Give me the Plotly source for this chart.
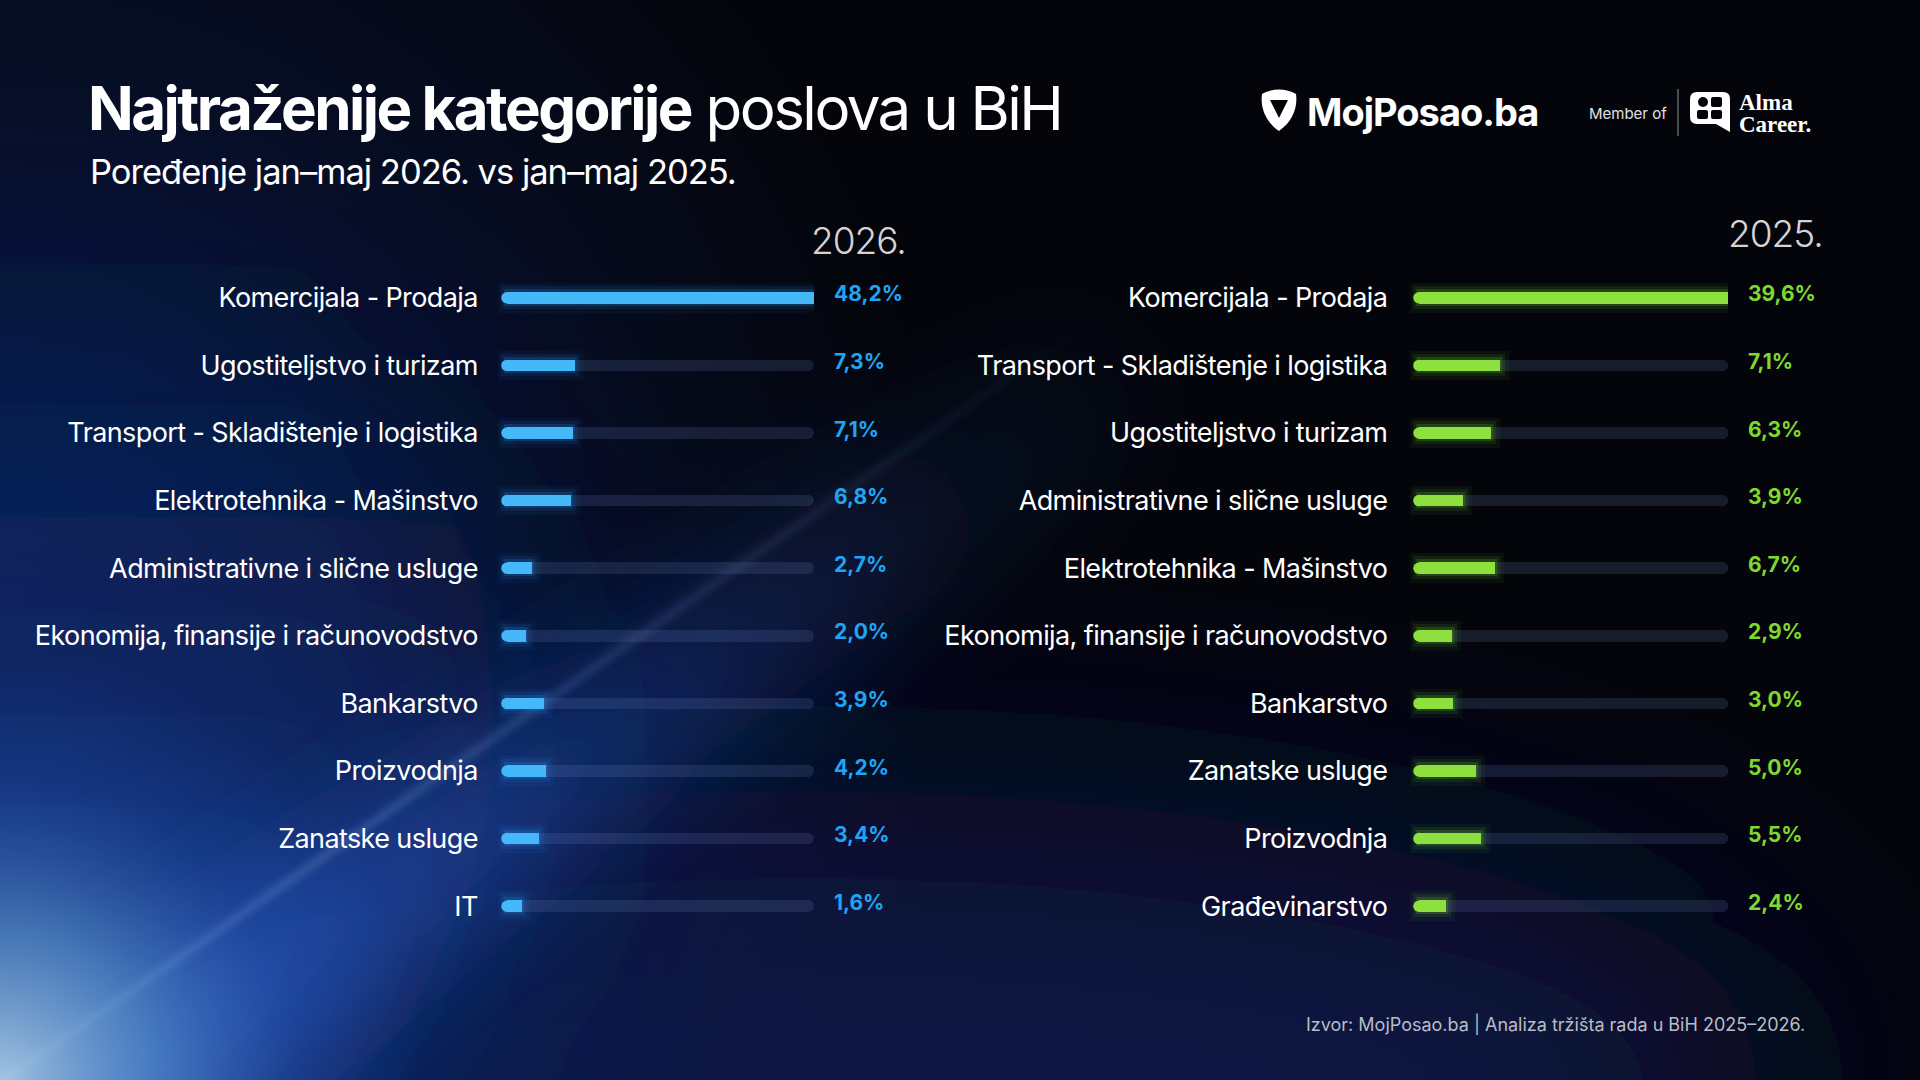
import base64
import plotly.graph_objects as go

# ---------------- data ----------------
cats_2026 = ["Komercijala - Prodaja", "Ugostiteljstvo i turizam",
             "Transport - Skladištenje i logistika", "Elektrotehnika - Mašinstvo",
             "Administrativne i slične usluge", "Ekonomija, finansije i računovodstvo",
             "Bankarstvo", "Proizvodnja", "Zanatske usluge", "IT"]
vals_2026 = [48.2, 7.3, 7.1, 6.8, 2.7, 2.0, 3.9, 4.2, 3.4, 1.6]

cats_2025 = ["Komercijala - Prodaja", "Transport - Skladištenje i logistika",
             "Ugostiteljstvo i turizam", "Administrativne i slične usluge",
             "Elektrotehnika - Mašinstvo", "Ekonomija, finansije i računovodstvo",
             "Bankarstvo", "Zanatske usluge", "Proizvodnja", "Građevinarstvo"]
vals_2025 = [39.6, 7.1, 6.3, 3.9, 6.7, 2.9, 3.0, 5.0, 5.5, 2.4]

title_bold = "Najtraženije kategorije"
title_rest = " poslova u BiH"
subtitle = "Poređenje jan–maj 2026. vs jan–maj 2025."
year_left = "2026."
year_right = "2025."
source = "Izvor: MojPosao.ba | Analiza tržišta rada u BiH 2025–2026."

# ---------------- style ----------------
W, H = 1920, 1080
FONT = "Inter"
BLUE = "#45b8fa"
BLUE_GLOW = "rgba(40,160,255,{a})"
BLUE_TXT = "#1ea6f5"
GREEN = "#8ee03f"
GREEN_GLOW = "rgba(120,230,50,{a})"
GREEN_TXT = "#7ed92e"
TRACK = "rgba(120,140,200,0.17)"

# horizontal geometry (pixels) and scale (pixels per percent point)
L0, L1, K_L = 507, 814, 9.33
R0, R1, K_R = 1419, 1728, 11.4
XMAX_L = (L1 - L0) / K_L   # the track end; longer bars are cut at the track end
XMAX_R = (R1 - R0) / K_R
PAD = 1.2                  # left pad in percent so the round cap / glow is not cut
BAR_W = 0.17
Y_TOP, Y_BOT = 264, 940
ROW_PX = (Y_BOT - Y_TOP) / 10
CAP_PX = BAR_W * ROW_PX

svg = f"""<svg xmlns="http://www.w3.org/2000/svg" width="{W}" height="{H}" viewBox="0 0 {W} {H}">
<defs>
<filter id="b1" x="-150%" y="-200%" width="400%" height="500%"><feGaussianBlur stdDeviation="130"/></filter>
<filter id="b2" x="-100%" y="-100%" width="300%" height="300%"><feGaussianBlur stdDeviation="55"/></filter>
<filter id="b3" x="-20%" y="-20%" width="140%" height="140%"><feGaussianBlur stdDeviation="4"/></filter>
<radialGradient id="corner" cx="0" cy="1080" r="430" gradientUnits="userSpaceOnUse">
<stop offset="0" stop-color="#a9cbe6" stop-opacity="0.95"/>
<stop offset="0.35" stop-color="#5b92cf" stop-opacity="0.7"/>
<stop offset="0.7" stop-color="#2656b6" stop-opacity="0.3"/>
<stop offset="1" stop-color="#1d4fb0" stop-opacity="0"/>
</radialGradient>
<radialGradient id="navy" cx="0" cy="600" r="950" gradientUnits="userSpaceOnUse">
<stop offset="0" stop-color="#0c2464" stop-opacity="0.8"/>
<stop offset="0.5" stop-color="#0b1f56" stop-opacity="0.4"/>
<stop offset="1" stop-color="#0b1f56" stop-opacity="0"/>
</radialGradient>
<linearGradient id="streak" x1="0" y1="1083" x2="1120" y2="300" gradientUnits="userSpaceOnUse">
<stop offset="0" stop-color="#9dc0e6" stop-opacity="0.85"/>
<stop offset="0.5" stop-color="#6a96d8" stop-opacity="0.45"/>
<stop offset="1" stop-color="#6a96d8" stop-opacity="0"/>
</linearGradient>
<linearGradient id="band" x1="0" y1="1083" x2="1120" y2="300" gradientUnits="userSpaceOnUse">
<stop offset="0" stop-color="#2a5cc4" stop-opacity="0.85"/>
<stop offset="0.55" stop-color="#1d47a6" stop-opacity="0.4"/>
<stop offset="1" stop-color="#1d47a6" stop-opacity="0"/>
</linearGradient>
<linearGradient id="left" x1="0" y1="250" x2="0" y2="1000" gradientUnits="userSpaceOnUse">
<stop offset="0" stop-color="#0a1f5a" stop-opacity="0.0"/>
<stop offset="0.35" stop-color="#0b2462" stop-opacity="0.6"/>
<stop offset="1" stop-color="#12337f" stop-opacity="0.95"/>
</linearGradient>
</defs>
<rect width="{W}" height="{H}" fill="#04050b"/>
<ellipse cx="800" cy="1090" rx="1000" ry="300" fill="#0a1742" filter="url(#b1)"/>
<rect width="{W}" height="{H}" fill="url(#navy)"/>
<ellipse cx="-60" cy="720" rx="560" ry="520" fill="url(#left)" filter="url(#b1)"/>
<line x1="60" y1="1120" x2="1150" y2="350" stroke="url(#band)" stroke-width="150" filter="url(#b2)"/>
<line x1="0" y1="1083" x2="1120" y2="300" stroke="url(#streak)" stroke-width="4" filter="url(#b3)"/>
<rect width="{W}" height="{H}" fill="url(#corner)"/>
<path d="M1262,94 C1272,88 1286,88 1296,94 C1298,108 1292,122 1279,131 C1266,122 1260,108 1262,94 Z M1270,100 L1288,100 L1279,118 Z" fill="#ffffff" fill-rule="evenodd"/>
<line x1="1678" y1="89" x2="1678" y2="136" stroke="#7a7a7a" stroke-width="1.2"/>
<path d="M1697,92 L1723,92 Q1730,92 1730,99 L1730,132 L1716,124 L1697,124 Q1690,124 1690,117 L1690,99 Q1690,92 1697,92 Z" fill="#ffffff"/>
<circle cx="1703" cy="102" r="5" fill="#04050b"/>
<rect x="1711" y="97" width="11" height="10" rx="2" fill="#04050b"/>
<rect x="1697" y="110" width="11" height="9" rx="2" fill="#04050b"/>
<rect x="1711" y="110" width="11" height="9" rx="2" fill="#04050b"/>
</svg>"""
bg_src = "data:image/svg+xml;base64," + base64.b64encode(svg.encode("utf-8")).decode("ascii")

fig = go.Figure()


def add_panel(cats, vals, color, glow, txt_color, xa, ya, xmax):
    n = len(cats)
    # background track
    fig.add_trace(go.Bar(y=cats, x=[xmax] * n, orientation="h", width=BAR_W,
                         marker=dict(color=TRACK, cornerradius=6, line=dict(width=0)),
                         xaxis=xa, yaxis=ya, hoverinfo="skip", showlegend=False))
    # soft glow around the value bars
    for lw, a in [(18, 0.05), (11, 0.09), (5, 0.17)]:
        fig.add_trace(go.Bar(y=cats, x=vals, orientation="h", width=BAR_W,
                             marker=dict(color="rgba(0,0,0,0)", cornerradius=6,
                                         line=dict(width=lw, color=glow.format(a=a))),
                             xaxis=xa, yaxis=ya, hoverinfo="skip", showlegend=False))
    # value bars
    fig.add_trace(go.Bar(y=cats, x=vals, orientation="h", width=BAR_W,
                         marker=dict(color=color, cornerradius=6, line=dict(width=0)),
                         xaxis=xa, yaxis=ya, showlegend=False,
                         hovertemplate="%{y}: %{x}%<extra></extra>"))
    # round cap at the bar base
    fig.add_trace(go.Scatter(y=cats, x=[0] * n, mode="markers", cliponaxis=False,
                             marker=dict(symbol="circle", size=CAP_PX, color=color,
                                         line=dict(width=0)),
                             xaxis=xa, yaxis=ya, hoverinfo="skip", showlegend=False))
    for c, v in zip(cats, vals):
        fig.add_annotation(xref=xa, yref=ya, x=xmax, y=c, xshift=18, yshift=4,
                           xanchor="left", yanchor="middle", showarrow=False,
                           text=f"{v:.1f}".replace(".", ",") + "%",
                           font=dict(family=FONT, size=21, color=txt_color, weight=700))


add_panel(cats_2026, vals_2026, BLUE, BLUE_GLOW, BLUE_TXT, "x", "y", XMAX_L)
add_panel(cats_2025, vals_2025, GREEN, GREEN_GLOW, GREEN_TXT, "x2", "y2", XMAX_R)


def styled(cats):
    return [f'<span style="letter-spacing:-0.6px">{c}</span>' for c in cats]


ydom = [1 - Y_BOT / H, 1 - Y_TOP / H]
yax = dict(type="category", range=[9.5, -0.5], autorange=False, showgrid=False,
           zeroline=False, showline=False, ticks="", ticklabelstandoff=17, domain=ydom,
           tickfont=dict(family=FONT, size=27, color="#ffffff"))
xax = dict(visible=False, showgrid=False, zeroline=False, fixedrange=True, autorange=False)

fig.update_layout(
    width=W, height=H, margin=dict(l=0, r=0, t=0, b=0),
    paper_bgcolor="#04050b", plot_bgcolor="rgba(0,0,0,0)",
    barmode="overlay", bargap=0,
    xaxis=dict(xax, domain=[(L0 - PAD * K_L) / W, L1 / W], range=[-PAD, XMAX_L]),
    xaxis2=dict(xax, domain=[(R0 - PAD * K_R) / W, R1 / W], range=[-PAD, XMAX_R]),
    yaxis=dict(yax, anchor="x", categoryarray=cats_2026,
               tickvals=cats_2026, ticktext=styled(cats_2026)),
    yaxis2=dict(yax, anchor="x2", categoryarray=cats_2025,
                tickvals=cats_2025, ticktext=styled(cats_2025)),
    images=[dict(source=bg_src, xref="paper", yref="paper", x=0, y=1, sizex=1, sizey=1,
                 xanchor="left", yanchor="top", sizing="stretch", layer="below")],
)

ann = [
    dict(x=86 / W, y=1 - 108 / H, xanchor="left", yanchor="middle",
         text=f'<span style="letter-spacing:-2.5px"><b>{title_bold}</b>{title_rest}</span>',
         font=dict(family=FONT, size=60, color="#ffffff")),
    dict(x=88 / W, y=1 - 171 / H, xanchor="left", yanchor="middle",
         text=f'<span style="letter-spacing:-1px">{subtitle}</span>',
         font=dict(family=FONT, size=34.5, color="#ffffff")),
    dict(x=1305 / W, y=1 - 112 / H, xanchor="left", yanchor="middle",
         text='<span style="letter-spacing:-1px"><b>MojPosao.ba</b></span>',
         font=dict(family=FONT, size=38, color="#ffffff")),
    dict(x=1587 / W, y=1 - 114 / H, xanchor="left", yanchor="middle",
         text="Member of", font=dict(family=FONT, size=15, color="#e0e0e0")),
    dict(x=1737 / W, y=1 - 103 / H, xanchor="left", yanchor="middle",
         text="<b>Alma</b>", font=dict(family="Liberation Serif", size=23, color="#ffffff")),
    dict(x=1737 / W, y=1 - 124 / H, xanchor="left", yanchor="middle",
         text="<b>Career.</b>", font=dict(family="Liberation Serif", size=23, color="#ffffff")),
    dict(x=908 / W, y=1 - 241 / H, xanchor="right", yanchor="middle",
         text=f'<span style="letter-spacing:-1px">{year_left}</span>',
         font=dict(family=FONT, size=37, color="#d4d4d8", weight=300)),
    dict(x=1825 / W, y=1 - 233 / H, xanchor="right", yanchor="middle",
         text=f'<span style="letter-spacing:-1px">{year_right}</span>',
         font=dict(family=FONT, size=37, color="#d4d4d8", weight=300)),
    dict(x=1807 / W, y=1 - 1024 / H, xanchor="right", yanchor="middle",
         text=source, font=dict(family=FONT, size=18, color="#b8bcc8")),
]
for a in ann:
    fig.add_annotation(dict(a, xref="paper", yref="paper", showarrow=False))

fig.write_html("out.html")
